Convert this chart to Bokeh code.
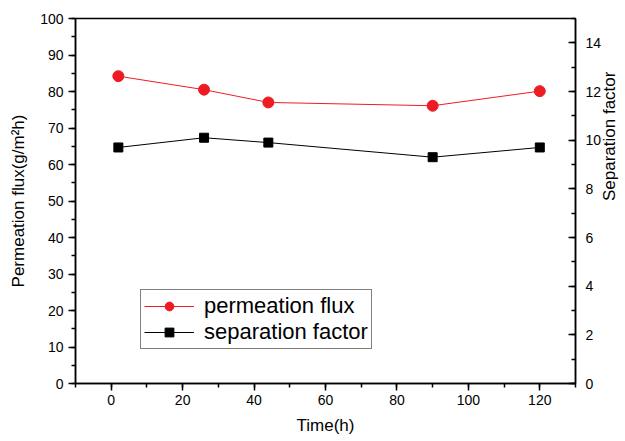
import math
from bokeh.plotting import figure
from bokeh.models import Range1d, LinearAxis, SingleIntervalTicker, Legend, LegendItem
from bokeh.embed import file_html
from bokeh.resources import INLINE

time_h = [2, 26, 44, 90, 120]
permeation_flux = [84.2, 80.5, 77.0, 76.1, 80.1]
separation_factor = [9.7, 10.1, 9.9, 9.3, 9.7]

FONT = "Liberation Sans"
RED = "#ED1C24"

p = figure(frame_width=500, frame_height=365,
           x_range=Range1d(-10, 130), y_range=Range1d(0, 100),
           output_backend="svg", toolbar_location=None,
           min_border_left=75, min_border_top=18, min_border_right=48, min_border_bottom=56)
p.extra_y_ranges = {"sep": Range1d(0, 15)}
p.xgrid.visible = False
p.ygrid.visible = False
p.outline_line_color = "black"
p.outline_line_width = 1.5
p.background_fill_color = "white"
p.border_fill_color = "white"

xa = p.xaxis[0]
xa.ticker = SingleIntervalTicker(interval=20, num_minor_ticks=2)
xa.axis_label = "Time(h)"
ya = p.yaxis[0]
ya.ticker = SingleIntervalTicker(interval=10, num_minor_ticks=2)
ya.axis_label = "Permeation flux(g/m\u00b2h)"

ra = LinearAxis(y_range_name="sep", ticker=SingleIntervalTicker(interval=2, num_minor_ticks=2),
                axis_label="Separation factor")
p.add_layout(ra, "right")
if hasattr(ra, "axis_label_orientation"):
    ra.axis_label_orientation = math.pi / 2

for ax in (xa, ya, ra):
    ax.axis_line_width = 1.5
    ax.axis_line_color = "black"
    ax.major_tick_line_width = 1.5
    ax.minor_tick_line_width = 1.5
    ax.major_tick_line_color = "black"
    ax.minor_tick_line_color = "black"
    ax.major_label_text_font = FONT
    ax.major_label_text_font_size = "14px"
    ax.major_label_text_color = "black"
    ax.axis_label_text_font = FONT
    ax.axis_label_text_font_size = "17px"
    ax.axis_label_text_font_style = "normal"
    ax.axis_label_text_color = "black"

for ax in (xa, ya):
    ax.major_tick_out = 7
    ax.major_tick_in = 0
    ax.minor_tick_out = 4
    ax.minor_tick_in = 0
ra.major_tick_out = 0
ra.major_tick_in = 7
ra.minor_tick_out = 0
ra.minor_tick_in = 4

xa.major_label_standoff = 4
xa.axis_label_standoff = 8
ya.major_label_standoff = 5
ya.axis_label_standoff = 9
ra.major_label_standoff = 10
ra.axis_label_standoff = 5

l1 = p.line(time_h, permeation_flux, line_color=RED, line_width=1)
m1 = p.scatter(time_h, permeation_flux, marker="circle", size=11, fill_color=RED, line_color=RED)
l2 = p.line(time_h, separation_factor, line_color="black", line_width=1, y_range_name="sep")
m2 = p.scatter(time_h, separation_factor, marker="square", size=9, fill_color="black",
               line_color="black", y_range_name="sep")

legend = Legend(items=[LegendItem(label="permeation flux", renderers=[l1, m1]),
                       LegendItem(label="separation factor", renderers=[l2, m2])],
                location=(65, 34))
legend.label_text_font = FONT
legend.label_text_font_size = "22px"
legend.label_text_color = "black"
legend.label_text_line_height = 1.0
legend.glyph_width = 50
legend.glyph_height = 22
legend.label_height = 22
legend.label_standoff = 10
legend.spacing = 0
legend.padding = 3
legend.margin = 0
legend.border_line_color = "black"
legend.border_line_width = 1
legend.background_fill_alpha = 1
p.add_layout(legend, "center")

open("out.html", "w").write(file_html(p, INLINE))
